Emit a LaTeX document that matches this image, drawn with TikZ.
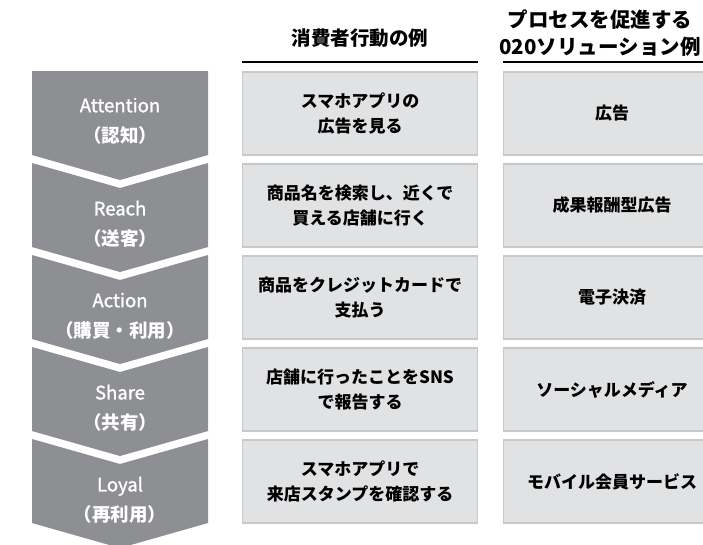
\documentclass[tikz,border=0pt]{standalone}
\usepackage{fontspec}
\setmainfont{Noto Sans CJK JP}
\newfontfamily\latmed{Noto Sans CJK JP}[FakeBold=1.3]
\definecolor{chev}{HTML}{8E8F93}
\definecolor{boxfill}{HTML}{E1E2E4}
\definecolor{boxline}{HTML}{C7C8CA}
\begin{document}
\begin{tikzpicture}[x=1pt,y=-1pt,
  chevshape/.style={fill=chev,draw=none},
  chevtext/.style={text=white,align=center,font=\fontsize{18.5}{30}\selectfont,inner sep=0pt},
  exbox/.style={fill=boxfill,draw=boxline,line width=1.5pt,minimum width=235pt,minimum height=83pt,inner sep=0pt,align=center,font=\bfseries\fontsize{17}{25}\selectfont},
  solbox/.style={fill=boxfill,draw=boxline,line width=1.5pt,minimum width=217pt,minimum height=83pt,inner sep=0pt,align=center,font=\bfseries\fontsize{17}{25}\selectfont},
  headtext/.style={align=center,font=\bfseries\fontsize{19.5}{28}\selectfont,inner sep=0pt},
  headline/.style={line width=2.2pt,draw=black}]
\useasboundingbox (0,0) rectangle (703,544);
\clip (0,0) rectangle (703,544);
% chevrons
\path[chevshape] (32,71) -- (208,71) -- (208,155) -- (120,180) -- (32,155) -- cycle;
\foreach \t in {163,255,347,439}{
  \path[chevshape] (32,\t) -- (120,\t+25) -- (208,\t) -- (208,\t+84) -- (120,\t+109) -- (32,\t+84) -- cycle;
}
\node[chevtext] (c1) at (120,121) {{\latmed Attention}\\\bfseries （認知）};
\node[chevtext] (c2) at (120,224) {{\latmed Reach}\\\bfseries （送客）};
\node[chevtext] (c3) at (120,316) {{\latmed Action}\\\bfseries （購買・利用）};
\node[chevtext] (c4) at (120,408) {{\latmed Share}\\\bfseries （共有）};
\node[chevtext] (c5) at (120,500) {{\latmed Loyal}\\\bfseries （再利用）};
% headers
\node[headtext] (h1) at (360,38) {消費者行動の例};
\node[headtext, font=\bfseries\fontsize{20.5}{27}\selectfont] (h2) at (600,33) {プロセスを促進する\\020ソリューション例};
\coordinate (l1a) at (242,62); \coordinate (l1b) at (478,62);
\coordinate (l2a) at (503,62); \coordinate (l2b) at (721,62);
\draw[headline] (l1a) -- (l1b);
\draw[headline] (l2a) -- (l2b);
% example boxes
\node[exbox] (e1) at (360,113.5) {スマホアプリの\\広告を見る};
\node[exbox] (e2) at (360,205.5) {商品名を検索し、近くで\\買える店舗に行く};
\node[exbox] (e3) at (360,297.5) {商品をクレジットカードで\\支払う};
\node[exbox] (e4) at (360,389.5) {店舗に行ったことをSNS\\で報告する};
\node[exbox] (e5) at (360,481.5) {スマホアプリで\\来店スタンプを確認する};
% solution boxes
\node[solbox] (s1) at (612,113.5) {広告};
\node[solbox] (s2) at (612,205.5) {成果報酬型広告};
\node[solbox] (s3) at (612,297.5) {電子決済};
\node[solbox] (s4) at (612,389.5) {ソーシャルメディア};
\node[solbox] (s5) at (612,481.5) {モバイル会員サービス};
\end{tikzpicture}
\end{document}
